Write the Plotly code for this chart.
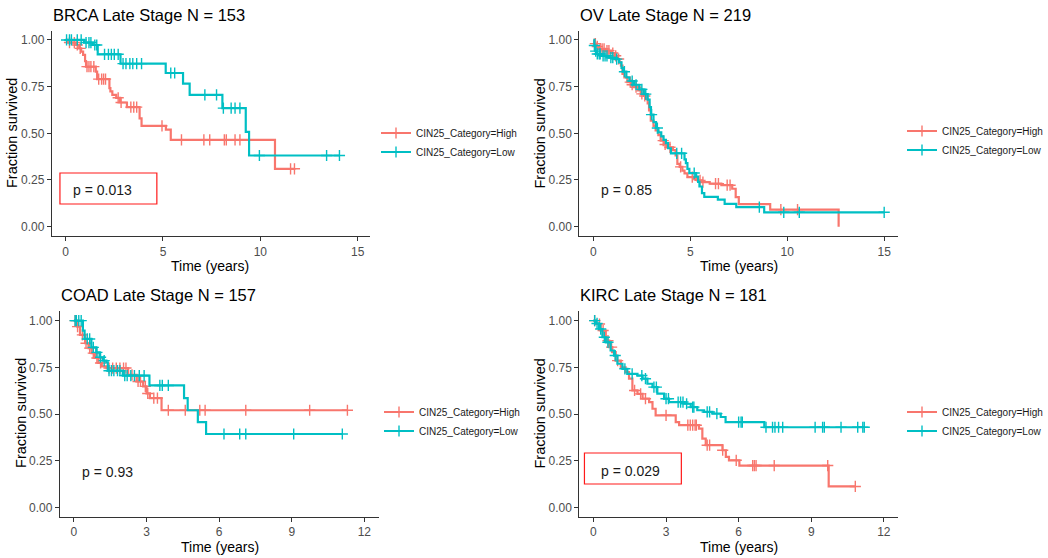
import plotly.graph_objects as go

W, H = 1048, 558
HIGH_COLOR = "#F8766D"
LOW_COLOR = "#00BFC4"
FONT = "Liberation Sans, Arial, sans-serif"

# ---------------- survival data (step times, survival after each step, censor times) ----------------
panel_titles = ["BRCA Late Stage N = 153", "OV Late Stage N = 219",
                "COAD Late Stage N = 157", "KIRC Late Stage N = 181"]
p_labels = ["p = 0.013", "p = 0.85", "p = 0.93", "p = 0.029"]
group_names = ["CIN25_Category=High", "CIN25_Category=Low"]

brca_high_t = [0, 0.1, 0.55, 0.7, 0.8, 0.9, 1.0, 1.05, 1.55, 1.62, 2.25, 2.3, 2.4, 2.6, 2.8,
               3.15, 3.8, 3.9, 5.15, 5.4, 10.75]
brca_high_s = [1.0, 0.986, 0.973, 0.955, 0.937, 0.92, 0.886, 0.857, 0.83, 0.79, 0.742, 0.724,
               0.706, 0.69, 0.665, 0.64, 0.58, 0.54, 0.52, 0.465, 0.31]
brca_high_end = 11.75
brca_high_cens = [0.2, 0.45, 0.6, 0.75, 1.1, 1.2, 1.3, 1.45, 1.7, 1.85, 1.95, 2.05, 2.7, 2.85,
                  3.35, 3.5, 3.65, 4.95, 5.95, 7.1, 7.4, 8.15, 8.25, 8.7, 8.95, 9.4, 11.55, 11.75]

brca_low_t = [0, 0.95, 1.4, 1.65, 2.82, 5.14, 6.03, 6.37, 8.05, 9.25, 9.42]
brca_low_s = [1.0, 0.986, 0.973, 0.923, 0.873, 0.823, 0.766, 0.706, 0.635, 0.508, 0.381]
brca_low_end = 14.06
brca_low_cens = [0.05, 0.2, 0.3, 0.6, 0.8, 1.05, 1.2, 1.3, 1.5, 1.6, 2.0, 2.2, 2.35, 2.5, 2.7,
                 2.95, 3.1, 3.3, 3.45, 3.65, 3.9, 5.4, 5.6, 7.15, 7.75, 8.1, 8.5, 8.7, 8.95,
                 9.95, 13.4, 14.06]

ov_high_t = [0, 0.05, 0.15, 0.3, 0.6, 0.9, 1.1, 1.25, 1.35, 1.42, 1.5, 1.6, 1.75, 1.95, 2.1,
             2.3, 2.44, 2.6, 2.7, 2.8, 2.87, 2.96, 3.1, 3.21, 3.35, 3.47, 3.65, 3.8, 4.1, 4.24,
             4.33, 4.45, 4.59, 4.7, 4.85, 5.2, 5.36, 5.6, 6.0, 6.6, 7.16, 7.34, 7.5, 9.12, 12.65]
ov_high_s = [1.0, 0.98, 0.965, 0.952, 0.943, 0.93, 0.915, 0.898, 0.88, 0.862, 0.818, 0.8,
             0.774, 0.76, 0.747, 0.73, 0.711, 0.7, 0.684, 0.66, 0.622, 0.568, 0.54, 0.515,
             0.49, 0.461, 0.44, 0.425, 0.41, 0.381, 0.336, 0.32, 0.3, 0.285, 0.265, 0.255,
             0.248, 0.238, 0.23, 0.222, 0.203, 0.158, 0.121, 0.091, 0.0]
ov_high_end = 12.65
ov_high_cens = [0.1, 0.2, 0.35, 0.45, 0.55, 0.7, 0.8, 1.0, 1.15, 1.3, 1.9, 2.0, 2.2, 2.5, 2.65,
                3.6, 3.7, 3.95, 4.5, 5.1, 5.5, 5.65, 6.3, 6.45, 6.9, 7.05, 9.67, 10.53]

ov_low_t = [0, 0.05, 0.1, 0.15, 0.4, 0.8, 1.1, 1.32, 1.45, 1.52, 1.7, 1.86, 2.1, 2.37, 2.6,
            2.8, 2.9, 2.97, 3.1, 3.23, 3.35, 3.5, 3.62, 3.74, 3.85, 4.0, 4.7, 4.77, 4.85, 4.95,
            5.3, 5.4, 5.47, 5.6, 5.72, 6.42, 6.77, 7.37, 8.81]
ov_low_s = [1.0, 0.97, 0.94, 0.925, 0.915, 0.905, 0.897, 0.88, 0.85, 0.83, 0.8, 0.78, 0.76,
            0.735, 0.71, 0.68, 0.64, 0.6, 0.56, 0.528, 0.505, 0.483, 0.465, 0.447, 0.42,
            0.393, 0.36, 0.34, 0.31, 0.287, 0.268, 0.24, 0.215, 0.18, 0.16, 0.145, 0.122,
            0.105, 0.077]
ov_low_end = 15.0
ov_low_cens = [0.05, 0.12, 0.2, 0.3, 0.35, 0.5, 0.6, 0.7, 0.9, 1.0, 1.2, 1.6, 2.0, 2.2, 2.5,
               2.7, 3.0, 3.3, 4.3, 4.55, 5.2, 8.56, 9.82, 10.62, 15.0]

coad_high_t = [0, 0.14, 0.25, 0.46, 0.6, 0.73, 0.87, 1.01, 1.15, 1.35, 2.24, 2.59, 2.86, 3.0,
               3.14, 3.62]
coad_high_s = [1.0, 0.968, 0.924, 0.879, 0.853, 0.826, 0.8, 0.773, 0.755, 0.746, 0.71, 0.674,
               0.648, 0.61, 0.585, 0.52]
coad_high_end = 11.3
coad_high_cens = [0.05, 0.15, 0.35, 0.5, 0.65, 0.8, 0.95, 1.1, 1.45, 1.6, 1.75, 1.9, 2.05,
                  2.15, 2.4, 2.65, 2.75, 2.95, 3.05, 3.3, 3.45, 3.9, 4.6, 5.2, 5.42, 7.1, 9.74,
                  11.3]

coad_low_t = [0, 0.37, 0.44, 0.72, 0.92, 1.06, 1.2, 1.34, 1.4, 2.02, 3.12, 4.55, 4.7, 5.12,
              5.46]
coad_low_s = [1.0, 0.947, 0.902, 0.857, 0.83, 0.804, 0.786, 0.777, 0.732, 0.706, 0.653, 0.585,
              0.52, 0.456, 0.393]
coad_low_end = 11.09
coad_low_cens = [0.05, 0.1, 0.2, 0.3, 0.55, 0.65, 0.8, 0.95, 1.1, 1.25, 1.45, 1.55, 1.65, 1.8,
                 1.9, 2.1, 2.2, 2.35, 2.5, 2.7, 2.9, 3.55, 3.65, 3.9, 6.2, 6.85, 7.1, 9.08,
                 11.09]

kirc_high_t = [0, 0.1, 0.3, 0.51, 0.65, 0.78, 0.92, 1.13, 1.33, 1.47, 1.61, 1.82, 2.03, 2.3,
               2.44, 2.57, 3.4, 3.54, 4.36, 4.5, 4.64, 5.33, 5.47, 5.6, 6.03, 9.72]
kirc_high_s = [1.0, 0.982, 0.947, 0.893, 0.858, 0.831, 0.786, 0.75, 0.724, 0.689, 0.626, 0.608,
               0.582, 0.564, 0.528, 0.493, 0.457, 0.44, 0.422, 0.368, 0.333, 0.306, 0.27,
               0.252, 0.224, 0.112]
kirc_high_end = 10.82
kirc_high_cens = [0.05, 0.25, 0.4, 0.6, 0.75, 1.0, 1.7, 1.95, 2.15, 3.0, 3.9, 4.0, 4.1, 4.2,
                  4.25, 4.7, 4.8, 5.34, 5.9, 6.58, 6.65, 6.72, 7.47, 9.68, 10.82]

kirc_low_t = [0, 0.1, 0.23, 0.37, 0.51, 0.71, 0.85, 0.99, 1.2, 1.4, 1.82, 2.03, 2.23, 2.44,
              2.64, 2.92, 3.12, 3.74, 4.02, 4.29, 4.57, 4.92, 5.26, 5.46, 7.06]
kirc_low_s = [1.0, 0.985, 0.955, 0.911, 0.884, 0.84, 0.813, 0.769, 0.742, 0.715, 0.706, 0.689,
              0.662, 0.644, 0.609, 0.582, 0.564, 0.555, 0.537, 0.52, 0.511, 0.502, 0.484,
              0.457, 0.429]
kirc_low_end = 11.19
kirc_low_cens = [0.05, 0.15, 0.3, 0.45, 0.6, 0.9, 1.3, 1.6, 2.0, 2.15, 2.5, 2.6, 3.0, 3.1, 3.5,
                 3.6, 3.7, 3.85, 4.1, 4.15, 4.7, 4.8, 5.1, 6.0, 6.1, 6.15, 7.13, 7.4, 7.5,
                 7.65, 7.82, 9.16, 9.47, 9.54, 10.23, 10.92, 11.13, 11.19]

panel_curves = [
    [(brca_high_t, brca_high_s, brca_high_end, brca_high_cens),
     (brca_low_t, brca_low_s, brca_low_end, brca_low_cens)],
    [(ov_high_t, ov_high_s, ov_high_end, ov_high_cens),
     (ov_low_t, ov_low_s, ov_low_end, ov_low_cens)],
    [(coad_high_t, coad_high_s, coad_high_end, coad_high_cens),
     (coad_low_t, coad_low_s, coad_low_end, coad_low_cens)],
    [(kirc_high_t, kirc_high_s, kirc_high_end, kirc_high_cens),
     (kirc_low_t, kirc_low_s, kirc_low_end, kirc_low_cens)],
]

y_ticks = [0, 0.25, 0.5, 0.75, 1.0]
y_tick_text = ["0.00", "0.25", "0.50", "0.75", "1.00"]
x_ticks_top = [0, 5, 10, 15]
x_ticks_bottom = [0, 3, 6, 9, 12]


def px(x):
    return x / W


def py(y):
    return 1 - y / H


def surv_at(times, survs, t):
    val = survs[0]
    for ti, si in zip(times, survs):
        if ti <= t:
            val = si
        else:
            break
    return val


# ---------------- layout geometry (pixels) ----------------
# (left, right, top, bottom) of each panel's plotting region
panel_box = [(52, 370, 30.6, 236.0), (580, 899, 30.6, 236.0),
             (60, 379, 311.3, 516.7), (580, 899, 311.3, 516.7)]
x_ranges = [[-0.70, 15.61], [-0.72, 15.72], [-0.578, 12.59], [-0.578, 12.59]]
x_ticks = [x_ticks_top, x_ticks_top, x_ticks_bottom, x_ticks_bottom]

fig = go.Figure()
colors = [HIGH_COLOR, LOW_COLOR]
legend_ids = ["legend", "legend2", "legend3", "legend4"]

for i, curves in enumerate(panel_curves):
    xa = "x" if i == 0 else f"x{i + 1}"
    ya = "y" if i == 0 else f"y{i + 1}"
    for g, (times, survs, end, cens) in enumerate(curves):
        col = colors[g]
        fig.add_trace(go.Scatter(
            x=list(times) + [end], y=list(survs) + [survs[-1]],
            mode="lines", line=dict(color=col, width=2.2, shape="hv"),
            xaxis=xa, yaxis=ya, showlegend=False, hoverinfo="skip"))
        fig.add_trace(go.Scatter(
            x=cens, y=[surv_at(times, survs, c) for c in cens],
            mode="markers",
            marker=dict(symbol="cross-thin", size=8, color=col, line=dict(color=col, width=1.4)),
            xaxis=xa, yaxis=ya, showlegend=False, hoverinfo="skip"))
        # legend key: line with censor cross
        fig.add_trace(go.Scatter(
            x=[None], y=[None], name=group_names[g], mode="lines+markers",
            line=dict(color=col, width=2.2),
            marker=dict(symbol="cross-thin", size=8, color=col, line=dict(color=col, width=1.4)),
            xaxis=xa, yaxis=ya, legend=legend_ids[i], showlegend=True))

axis_common = dict(showgrid=False, zeroline=False, showline=True, linecolor="#333333",
                   linewidth=1.2, ticks="outside", ticklen=4, tickcolor="#333333",
                   tickwidth=1.1, tickfont=dict(family=FONT, size=12, color="#4d4d4d"),
                   fixedrange=True)

layout = dict(width=W, height=H, margin=dict(l=0, r=0, t=0, b=0),
              paper_bgcolor="white", plot_bgcolor="white",
              font=dict(family=FONT, color="#1a1a1a"))

for i, (l, r, t, b) in enumerate(panel_box):
    suffix = "" if i == 0 else str(i + 1)
    layout["xaxis" + suffix] = dict(axis_common, domain=[px(l), px(r)], range=x_ranges[i],
                                    tickvals=x_ticks[i], anchor="y" + suffix)
    layout["yaxis" + suffix] = dict(axis_common, domain=[py(b), py(t)], range=[-0.05, 1.05],
                                    tickvals=y_ticks, ticktext=y_tick_text,
                                    anchor="x" + suffix)

# per-panel legends
legend_pos = [(376, 142.5), (903, 140.5), (379, 421.5), (903, 421.5)]
for i, (lx, ly) in enumerate(legend_pos):
    layout[legend_ids[i]] = dict(x=px(lx), y=py(ly), xanchor="left", yanchor="middle",
                                 bgcolor="rgba(0,0,0,0)",
                                 font=dict(family=FONT, size=10, color="#1a1a1a"),
                                 tracegroupgap=0)

fig.update_layout(**layout)

annotations = []
# panel titles
title_pos = [(51, 15), (579, 15), (59, 295), (579, 295)]
for (tx, ty), txt in zip(title_pos, panel_titles):
    annotations.append(dict(x=px(tx), y=py(ty), xref="paper", yref="paper", text=txt,
                            showarrow=False, xanchor="left", yanchor="middle",
                            font=dict(family=FONT, size=16.5, color="#000000")))
# axis titles
ytitle_pos = [(12, 133), (541, 133), (21, 413), (541, 413)]
for (tx, ty) in ytitle_pos:
    annotations.append(dict(x=px(tx), y=py(ty), xref="paper", yref="paper",
                            text="Fraction survived", textangle=-90, showarrow=False,
                            xanchor="center", yanchor="middle",
                            font=dict(family=FONT, size=14.5, color="#000000")))
xtitle_pos = [(210, 266), (740, 266), (220, 547), (740, 547)]
for (tx, ty) in xtitle_pos:
    annotations.append(dict(x=px(tx), y=py(ty), xref="paper", yref="paper",
                            text="Time (years)", showarrow=False,
                            xanchor="center", yanchor="middle",
                            font=dict(family=FONT, size=14, color="#000000")))
# log-rank p-values
p_pos = [(71, 190), (600, 190), (80, 472), (600, 471)]
for (tx, ty), txt in zip(p_pos, p_labels):
    annotations.append(dict(x=px(tx), y=py(ty), xref="paper", yref="paper", text=txt,
                            showarrow=False, xanchor="left", yanchor="middle",
                            font=dict(family=FONT, size=14, color="#1a1a1a")))

shapes = []
for (l, t, r, b) in [(60, 173, 157, 204), (585, 453, 682, 484)]:
    shapes.append(dict(type="rect", xref="paper", yref="paper",
                       x0=px(l), x1=px(r), y0=py(b), y1=py(t),
                       line=dict(color="#ff1a1a", width=1.2), fillcolor="rgba(0,0,0,0)"))

fig.update_layout(annotations=annotations, shapes=shapes)

fig.write_html("out.html")
